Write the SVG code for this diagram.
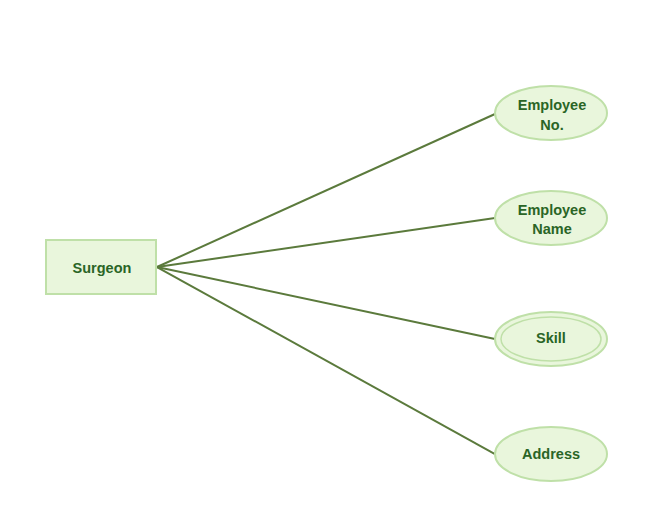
<svg xmlns="http://www.w3.org/2000/svg" width="663" height="532" viewBox="0 0 663 532">
<style>
.shape{fill:#e9f6dc;stroke:#bfe0a8;stroke-width:2}
.inner{fill:none;stroke:#bfe0a8;stroke-width:1.5}
.lbl{font-family:"Liberation Sans",Arial,sans-serif;font-size:14.5px;font-weight:bold;fill:#2a6526;text-anchor:middle}
.conn{stroke:#5b7a3c;stroke-width:2;fill:none}
</style>
<rect width="663" height="532" fill="#ffffff"/>
<g id="connectors">
<line class="conn" x1="157" y1="267" x2="495" y2="114"/>
<line class="conn" x1="157" y1="267" x2="495" y2="218"/>
<line class="conn" x1="157" y1="267" x2="495" y2="339"/>
<line class="conn" x1="157" y1="267" x2="495" y2="454"/>
</g>
<g id="surgeon">
<rect class="shape" x="46" y="240" width="110" height="54"/>
<text class="lbl" x="102" y="273">Surgeon</text>
</g>
<g id="employee-no">
<ellipse class="shape" cx="551" cy="113" rx="56" ry="27"/>
<text class="lbl" x="552" y="110">Employee</text>
<text class="lbl" x="552" y="130">No.</text>
</g>
<g id="employee-name">
<ellipse class="shape" cx="551" cy="218" rx="56" ry="27"/>
<text class="lbl" x="552" y="215">Employee</text>
<text class="lbl" x="552" y="234">Name</text>
</g>
<g id="skill">
<ellipse class="shape" cx="551" cy="339" rx="56" ry="27"/>
<ellipse class="inner" cx="551" cy="339" rx="50" ry="22"/>
<text class="lbl" x="551" y="343">Skill</text>
</g>
<g id="address">
<ellipse class="shape" cx="551" cy="454" rx="56" ry="27"/>
<text class="lbl" x="551" y="459">Address</text>
</g>
</svg>
